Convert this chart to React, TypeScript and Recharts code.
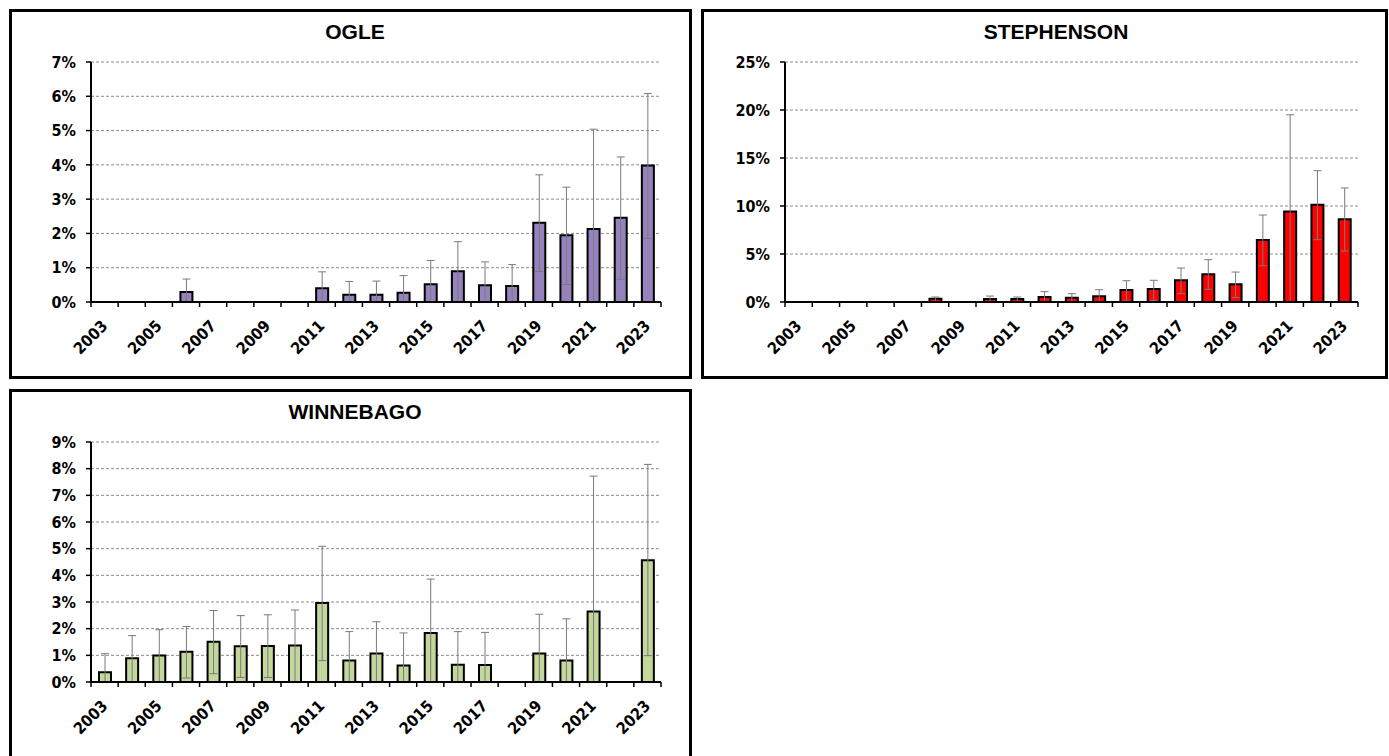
import React from 'react';
import { BarChart, Bar, XAxis, YAxis, CartesianGrid, ErrorBar } from 'recharts';

const YEARS = [
  2003, 2004, 2005, 2006, 2007, 2008, 2009, 2010, 2011, 2012, 2013,
  2014, 2015, 2016, 2017, 2018, 2019, 2020, 2021, 2022, 2023,
];

// rates in percent, with lower / upper confidence bounds
const ogleRate = [null, null, null, 0.29, null, null, null, null, 0.4, 0.21, 0.21, 0.27, 0.52, 0.9, 0.49, 0.47, 2.31, 1.95, 2.13, 2.46, 3.98];
const ogleLow = [null, null, null, 0, null, null, null, null, 0, 0, 0, 0, 0, 0, 0, 0, 0.89, 0.51, 0, 0.66, 1.85];
const ogleHigh = [null, null, null, 0.67, null, null, null, null, 0.88, 0.6, 0.61, 0.77, 1.21, 1.76, 1.17, 1.09, 3.71, 3.35, 5.04, 4.23, 6.08];

const stephRate = [null, null, null, null, null, 0.35, null, 0.31, 0.31, 0.52, 0.45, 0.59, 1.25, 1.35, 2.26, 2.88, 1.84, 6.46, 9.44, 10.14, 8.61];
const stephLow = [null, null, null, null, null, 0, null, 0, 0, 0, 0, 0, 0.1, 0.17, 0.87, 1.32, 0.45, 3.78, 0, 6.49, 5.31];
const stephHigh = [null, null, null, null, null, 0.52, null, 0.62, 0.52, 1.08, 0.87, 1.28, 2.22, 2.26, 3.54, 4.41, 3.12, 9.06, 19.5, 13.68, 11.88];

const winneRate = [0.37, 0.89, 0.99, 1.13, 1.51, 1.34, 1.35, 1.37, 2.96, 0.81, 1.07, 0.62, 1.84, 0.65, 0.64, null, 1.07, 0.81, 2.64, null, 4.57];
const winneLow = [0, 0, 0, 0.15, 0.31, 0.17, 0.17, 0, 0.8, 0, 0, 0, 0, 0, 0, null, 0, 0, 0, null, 0.99];
const winneHigh = [1.06, 1.74, 1.96, 2.08, 2.68, 2.49, 2.52, 2.7, 5.09, 1.89, 2.26, 1.84, 3.86, 1.89, 1.86, null, 2.54, 2.37, 7.72, null, 8.16];

const ogleTicks = [0, 1, 2, 3, 4, 5, 6, 7];
const stephTicks = [0, 5, 10, 15, 20, 25];
const winneTicks = [0, 1, 2, 3, 4, 5, 6, 7, 8, 9];

const LABEL_FONT = '"Liberation Sans Narrow", "DejaVu Sans Condensed", sans-serif';
const TITLE_FONT = '"Liberation Sans", Arial, sans-serif';

function buildRows(rate: (number | null)[], low: (number | null)[], high: (number | null)[]) {
  return YEARS.map((year, i) => {
    const v = rate[i];
    return {
      year: String(year),
      rate: v,
      err: v == null ? null : [v - (low[i] as number), (high[i] as number) - v],
    };
  });
}

function YearTick(props: any) {
  const { x, y, payload, visibleTicksCount, width } = props;
  const half = payload.offset || width / visibleTicksCount / 2;
  const year = Number(payload.value);
  const last = year === YEARS[YEARS.length - 1];
  const tx = x + 4;
  const ty = y + 25;
  return (
    <g>
      <line x1={x - half} x2={x - half} y1={y} y2={y + 5} stroke="#000" strokeWidth={1.5} />
      {last && <line x1={x + half} x2={x + half} y1={y} y2={y + 5} stroke="#000" strokeWidth={1.5} />}
      {year % 2 === 1 && (
        <text
          x={tx}
          y={ty}
          transform={`rotate(-45 ${tx} ${ty})`}
          textAnchor="end"
          fontFamily={LABEL_FONT}
          fontWeight="bold"
          fontSize={16}
          fill="#000"
        >
          {payload.value}
        </text>
      )}
    </g>
  );
}

interface PanelProps {
  title: string;
  left: number;
  top: number;
  width: number;
  height: number;
  titleCenter: number;
  rows: ReturnType<typeof buildRows>;
  ticks: number[];
  color: string;
  yAxisWidth: number;
  marginLeft: number;
  marginRight: number;
}

function Panel({ title, left, top, width, height, titleCenter, rows, ticks, color, yAxisWidth, marginLeft, marginRight }: PanelProps) {
  return (
    <>
      <div
        style={{
          position: 'absolute',
          left,
          top,
          width,
          height,
          border: '3px solid #000',
          boxSizing: 'border-box',
        }}
      >
        <BarChart
          width={width - 6}
          height={364}
          data={rows}
          margin={{ top: 50, right: marginRight, bottom: 14, left: marginLeft }}
        >
          <CartesianGrid vertical={false} stroke="#8c8c8c" strokeDasharray="3 2" />
          <XAxis
            dataKey="year"
            interval={0}
            height={60}
            tickSize={0}
            tickMargin={0}
            tickLine={false}
            axisLine={{ stroke: '#000', strokeWidth: 2 }}
            tick={<YearTick />}
          />
          <YAxis
            width={yAxisWidth}
            domain={[ticks[0], ticks[ticks.length - 1]]}
            ticks={ticks}
            tickFormatter={(v) => `${v}%`}
            tickSize={5}
            tickMargin={10}
            tickLine={{ stroke: '#000', strokeWidth: 1.5 }}
            axisLine={{ stroke: '#000', strokeWidth: 2 }}
            tick={{ fontSize: 16, fontWeight: 'bold', fill: '#000', fontFamily: LABEL_FONT }}
          />
          <Bar dataKey="rate" fill={color} stroke="#000" strokeWidth={2} barSize={12} isAnimationActive={false}>
            <ErrorBar dataKey="err" direction="y" width={4} stroke="#7a7a7a" strokeWidth={1} />
          </Bar>
        </BarChart>
      </div>
      <div
        style={{
          position: 'absolute',
          left: titleCenter - 150,
          top: top + 12,
          width: 300,
          textAlign: 'center',
          fontFamily: TITLE_FONT,
          fontWeight: 'bold',
          fontSize: 21,
          lineHeight: '21px',
          color: '#000',
        }}
      >
        {title}
      </div>
    </>
  );
}

export default function App() {
  return (
    <div
      style={{
        position: 'absolute',
        left: 0,
        top: 0,
        width: 1389,
        height: 756,
        overflow: 'hidden',
        background: '#fff',
      }}
    >
      <Panel
        title="OGLE"
        left={9}
        top={9}
        width={683}
        height={370}
        titleCenter={355}
        rows={buildRows(ogleRate, ogleLow, ogleHigh)}
        ticks={ogleTicks}
        color="#9683bd"
        yAxisWidth={40}
        marginLeft={39}
        marginRight={28}
      />
      <Panel
        title="STEPHENSON"
        left={701}
        top={9}
        width={687}
        height={370}
        titleCenter={1056}
        rows={buildRows(stephRate, stephLow, stephHigh)}
        ticks={stephTicks}
        color="#ff0000"
        yAxisWidth={45}
        marginLeft={36}
        marginRight={27}
      />
      <Panel
        title="WINNEBAGO"
        left={9}
        top={389}
        width={683}
        height={380}
        titleCenter={355}
        rows={buildRows(winneRate, winneLow, winneHigh)}
        ticks={winneTicks}
        color="#c3d69b"
        yAxisWidth={40}
        marginLeft={39}
        marginRight={28}
      />
    </div>
  );
}
